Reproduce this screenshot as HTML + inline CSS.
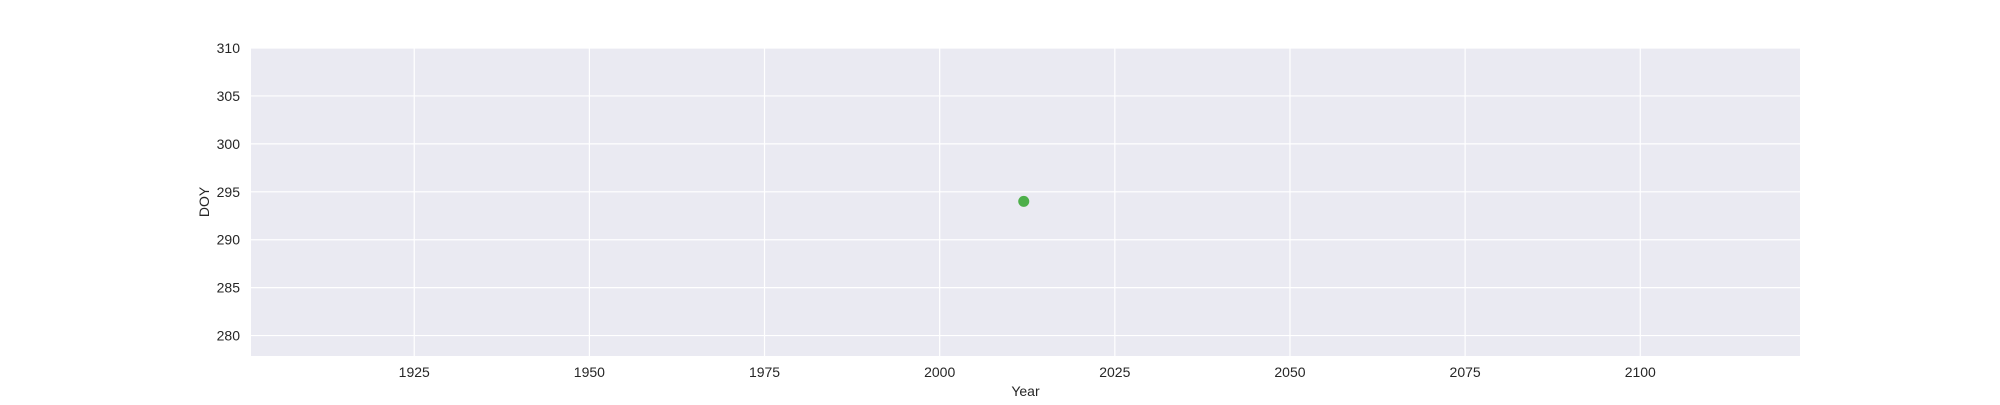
<!DOCTYPE html>
<html><head><meta charset="utf-8"><style>
html,body{margin:0;padding:0;background:#fff;}
svg text{font-family:"Liberation Sans",Arial,sans-serif;fill:#262626;font-size:14px;}
</style></head><body>
<svg width="2000" height="400" xmlns="http://www.w3.org/2000/svg">
<g id="plot"></g>
</svg>
<script>
const xTicks=[1925,1950,1975,2000,2025,2050,2075,2100];
const yTicks=[280,285,290,295,300,305,310];
const years=[2012];
const doy=[294];
const L=251,R=1800,T=48,B=356;
const xMin=1901.7,xMax=2122.8,yMin=277.87,yMax=310.0;
const sx=v=>L+(v-xMin)/(xMax-xMin)*(R-L);
const sy=v=>B-(v-yMin)/(yMax-yMin)*(B-T);
const NS='http://www.w3.org/2000/svg';
const g=document.getElementById('plot');
function mk(t,a){const e=document.createElementNS(NS,t);for(const k in a)e.setAttribute(k,a[k]);g.appendChild(e);return e;}
const bg=mk('rect',{x:L,y:T,width:R-L,height:B-T,fill:'#eaeaf2'});


xTicks.forEach(v=>{
 const l=mk('line',{x1:sx(v),x2:sx(v),y1:T,y2:B,stroke:'#fff','stroke-width':1.2});
 
 
 const t=mk('text',{x:sx(v),y:B+21,'text-anchor':'middle'});t.textContent=v;
 
 
});
yTicks.forEach(v=>{
 const l=mk('line',{x1:L,x2:R,y1:sy(v),y2:sy(v),stroke:'#fff','stroke-width':1.2});
 
 
 const t=mk('text',{x:L-11,y:sy(v)+5,'text-anchor':'end'});t.textContent=v;
 
 
});
years.forEach((y,i)=>{
 const c=mk('circle',{cx:sx(y),cy:sy(doy[i]),r:5.5,fill:'#4daf4a'});
 
 
});
const xl=mk('text',{x:(L+R)/2,y:396,'text-anchor':'middle'});xl.textContent='Year';


const yl=mk('text',{x:209,y:(T+B)/2,'text-anchor':'middle',transform:`rotate(-90 209 ${(T+B)/2})`});yl.textContent='DOY';


</script>
</body></html>
